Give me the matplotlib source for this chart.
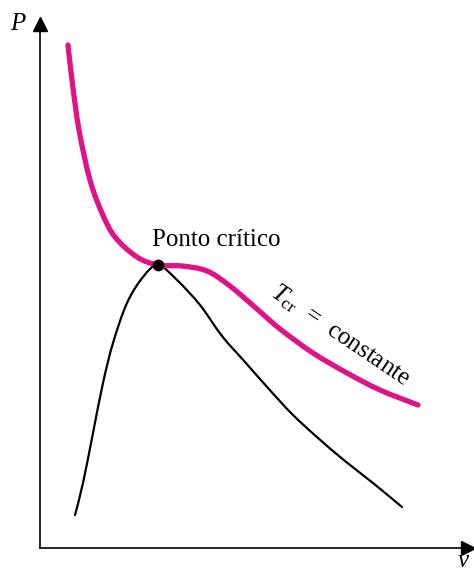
import numpy as np
import matplotlib.pyplot as plt
from matplotlib.path import Path
from matplotlib.patches import PathPatch

plt.rcParams["mathtext.fontset"] = "custom"
plt.rcParams["mathtext.rm"] = "Liberation Serif"
plt.rcParams["mathtext.it"] = "Liberation Serif:italic"

# isotherm T_cr (magenta), in plot units (v to the right, P upward)
iso_v = [28, 32, 39, 50, 62, 75, 97, 118, 142, 167, 190, 217, 240, 273, 307, 340, 378]
iso_P = [503, 468, 418, 368, 335, 311, 291, 283, 282, 277, 262, 239, 219, 195, 175, 158, 143]

# saturation dome (black)
dome_v = [35, 43, 53, 63, 73, 87, 103, 118, 137, 160, 182, 205, 228, 252, 278, 305, 333, 362]
dome_P = [33, 65, 115, 165, 205, 245, 271, 283, 268, 243, 212, 186, 160, 134, 110, 87, 65, 41]

crit_v, crit_P = 118, 283


def smooth_path(xs, ys):
    # Catmull-Rom through the read points, drawn as cubic Bezier segments
    p = np.column_stack([xs, ys]).astype(float)
    ext = np.vstack([p[0], p, p[-1]])
    verts = [p[0]]
    codes = [Path.MOVETO]
    for i in range(len(p) - 1):
        a, b, c, d = ext[i], ext[i + 1], ext[i + 2], ext[i + 3]
        verts += [b + (c - a) / 6, c - (d - b) / 6, c]
        codes += [Path.CURVE4] * 3
    return Path(verts, codes)


W, H = 474, 575
fig = plt.figure(figsize=(W / 100, H / 100), dpi=100)
ax = fig.add_axes([40 / W, 27 / H, 428 / W, 524 / H])
ax.set_xlim(0, 428)
ax.set_ylim(0, 524)
for s in ["top", "right"]:
    ax.spines[s].set_visible(False)
for s in ["left", "bottom"]:
    ax.spines[s].set_linewidth(1.2)
ax.set_xticks([])
ax.set_yticks([])
ax.patch.set_alpha(0)

# arrow heads
ax.plot(1, 0, ">k", markersize=10, transform=ax.transAxes, clip_on=False)
ax.plot(0, 1, "^k", markersize=10, transform=ax.transAxes, clip_on=False)

ax.add_patch(PathPatch(smooth_path(dome_v, dome_P), fill=False, ec="black",
                       lw=1.6, capstyle="round"))
ax.add_patch(PathPatch(smooth_path(iso_v, iso_P), fill=False, ec="#e0128a",
                       lw=3.8, capstyle="round"))
ax.plot(crit_v, crit_P, "o", color="black", markersize=7.5, zorder=5)

serif = ["Liberation Serif", "DejaVu Serif"]
fig.text(18 / W, 1 - 24 / H, "P", fontsize=18, style="italic", family=serif,
         ha="center", va="center")
fig.text(463 / W, 1 - 561 / H, "v", fontsize=18, style="italic", family=serif,
         ha="center", va="center")
ax.text(176, 302, "Ponto crítico", fontsize=18, family=serif,
        ha="center", va="baseline")
ax.text(229, 253, r"$T_{\rm cr}$  =  constante", fontsize=18, family=serif,
        rotation=-34, rotation_mode="anchor", ha="left", va="baseline")

fig.savefig("out.png", dpi=100)
